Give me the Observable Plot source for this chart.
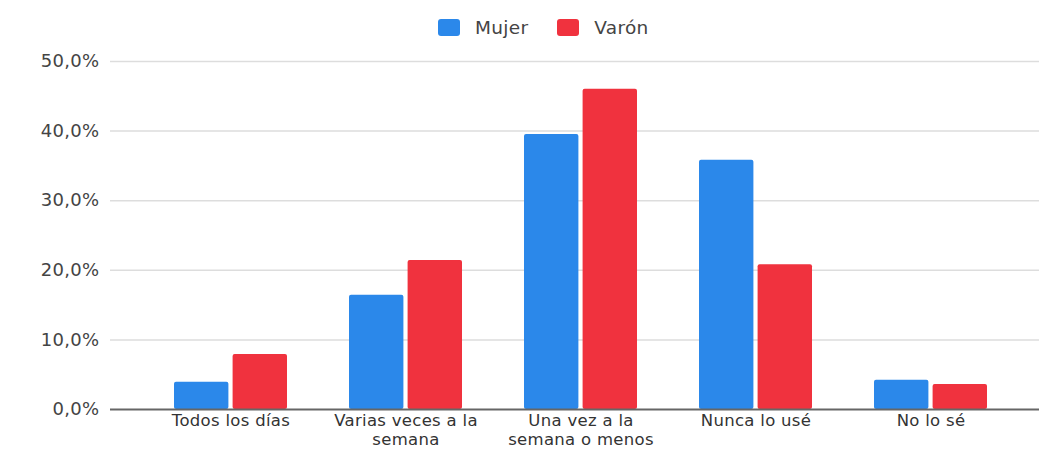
<!DOCTYPE html>
<html>
<head>
<meta charset="utf-8">
<script src="https://cdn.jsdelivr.net/npm/d3@7"></script>
<script src="https://cdn.jsdelivr.net/npm/@observablehq/plot@0.6"></script>
<style>
  html, body { margin: 0; padding: 0; background: #fff; }
  #wrap { position: relative; width: 1039px; height: 451px; overflow: hidden; font-family: "DejaVu Sans", sans-serif; }
  #legend { position: absolute; left: 438px; top: 17px; display: flex; align-items: center; font-size: 18.5px; color: #444; letter-spacing: 0.3px; }
  #legend .item { display: flex; align-items: center; margin-right: 29px; }
  #legend .sw { width: 22px; height: 17px; border-radius: 3px; margin-right: 15px; }
  #chart { position: absolute; left: 0; top: 48px; }
  #mark { position: absolute; left: 9px; top: 207px; width: 3px; height: 12px; background: #1a66d6; }
</style>
</head>
<body>
<div id="wrap">
  <div id="legend"></div>
  <div id="mark"></div>
  <div id="chart"></div>
</div>
<script>
const categories = ["Todos los días", "Varias veces a la semana", "Una vez a la semana o menos", "Nunca lo usé", "No lo sé"];
const tickLabels = ["Todos los días", "Varias veces a la\nsemana", "Una vez a la\nsemana o menos", "Nunca lo usé", "No lo sé"];
const series = ["Mujer", "Varón"];
const mujer = [0.039, 0.164, 0.395, 0.358, 0.042];
const varon = [0.079, 0.214, 0.460, 0.208, 0.036];
const colors = ["#2b88ea", "#f0323e"];

const rows = categories.map((c, i) => ({cat: c, label: tickLabels[i], Mujer: mujer[i], "Varón": varon[i]}));

const locale = d3.formatLocale({decimal: ",", thousands: ".", grouping: [3], currency: ["", "€"]});
const fmt = locale.format(".1%");

// legend
const legend = document.getElementById("legend");
series.forEach((s, i) => {
  const item = document.createElement("div");
  item.className = "item";
  const sw = document.createElement("div");
  sw.className = "sw";
  sw.style.background = colors[i];
  const t = document.createElement("span");
  t.textContent = s;
  item.appendChild(sw);
  item.appendChild(t);
  legend.appendChild(item);
});

const chart = Plot.plot({
  width: 1039,
  height: 403,
  marginTop: 13,
  marginBottom: 42,
  marginLeft: 110,
  marginRight: 0,
  style: {fontFamily: "DejaVu Sans, sans-serif", fontSize: "18px", color: "#444", background: "white", overflow: "visible", letterSpacing: "0.3px"},
  x: {domain: categories, paddingInner: 0.355, paddingOuter: 0.1775, insetLeft: 31.5, insetRight: 20, axis: null},
  y: {domain: [0, 0.5], ticks: 5, tickFormat: fmt, tickSize: 0, tickPadding: 11, label: null},
  marks: [
    Plot.ruleY([0.1, 0.2, 0.3, 0.4, 0.5], {stroke: "#dddddd", strokeWidth: 1.5}),
    Plot.barY(rows, {x: "cat", y: "Mujer", fill: colors[0], insetRight: 58.6, rx: 2}),
    Plot.barY(rows, {x: "cat", y: "Varón", fill: colors[1], insetLeft: 58.6, rx: 2}),
    Plot.ruleY([0], {stroke: "#666", strokeWidth: 2}),
    Plot.text(rows, {x: "cat", text: "label", frameAnchor: "bottom", lineAnchor: "top", dy: 4, lineHeight: 1.1, fontSize: 16.5, fill: "#333", letterSpacing: "0.6px"})
  ]
});
document.getElementById("chart").appendChild(chart);
</script>
</body>
</html>
